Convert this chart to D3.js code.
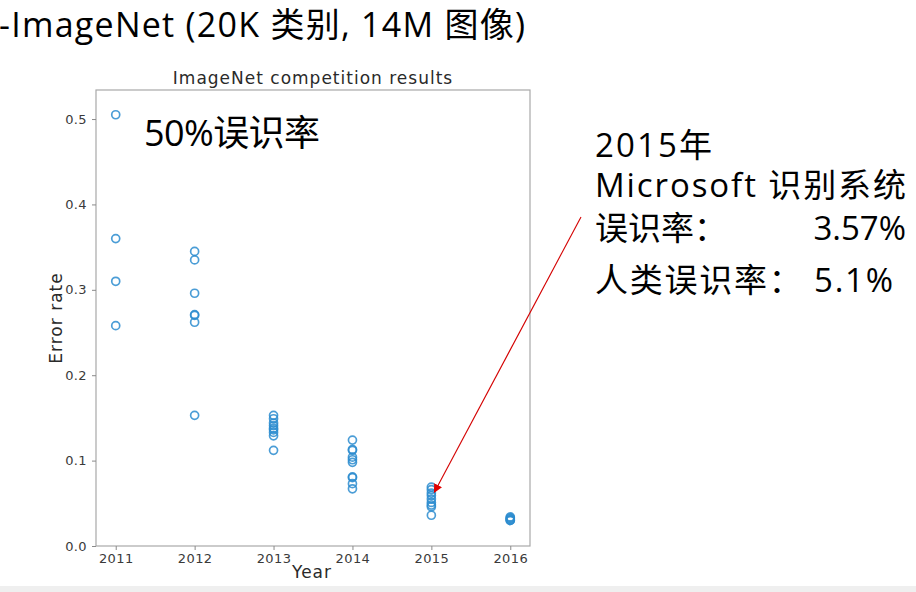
<!DOCTYPE html>
<html><head><meta charset="utf-8">
<script src="https://cdn.jsdelivr.net/npm/d3@7"></script>
<style>
html,body{margin:0;padding:0;background:#fff;}
svg{display:block;}
</style></head>
<body>
<script>
// ---- data ----
const years = [2011, 2012, 2013, 2014, 2015, 2016];
const err2011 = [0.505, 0.360, 0.310, 0.258];
const err2012 = [0.345, 0.335, 0.296, 0.271, 0.270, 0.262, 0.153];
const err2013 = [0.153, 0.149, 0.144, 0.141, 0.138, 0.136, 0.133, 0.129, 0.112];
const err2014 = [0.124, 0.113, 0.112, 0.104, 0.101, 0.098, 0.081, 0.080, 0.073, 0.067];
const err2015 = [0.069, 0.066, 0.062, 0.059, 0.055, 0.051, 0.048, 0.046, 0.036];
const err2016 = [0.034, 0.033, 0.032, 0.031, 0.030, 0.030];
const yTicks = [0.0, 0.1, 0.2, 0.3, 0.4, 0.5];
const xTicks = years;
const chartTitle = "ImageNet competition results";
const xLabel = "Year";
const yLabel = "Error rate";
const slideTitle = "-ImageNet (20K 类别, 14M 图像)";
const noteLeft = "50%误识率";
const noteRight = ["2015年", "Microsoft 识别系统"];
const msLabel = "误识率：";
const msValue = "3.57%";
const humanLine = "人类误识率： 5.1%";
const arrowTarget = {year: 2015, err: 0.063};

const series = [err2011, err2012, err2013, err2014, err2015, err2016];
const points = [];
series.forEach((arr, i) => arr.forEach(v => points.push({year: years[i], err: v})));

const W = 916, H = 592;
const svg = d3.select("body").append("svg").attr("width", W).attr("height", H);

// bottom gray strip
svg.append("rect").attr("x", 0).attr("y", 586).attr("width", W).attr("height", H - 586).attr("fill", "#efefef");

const plot = {left: 96, right: 530, top: 90, bottom: 546};
const x = d3.scaleLinear().domain([2010.75, 2016.25]).range([plot.left, plot.right]);
const y = d3.scaleLinear().domain([0, 0.534]).range([plot.bottom, plot.top]);

const mplFont = "'DejaVu Sans', sans-serif";
const slideFont = "'Open Sans', 'Noto Sans CJK SC', sans-serif";

// frame
svg.append("rect").attr("x", plot.left).attr("y", plot.top)
  .attr("width", plot.right - plot.left).attr("height", plot.bottom - plot.top)
  .attr("fill", "none").attr("stroke", "#a8a8a8").attr("stroke-width", 1.2);

// axes
const yAxis = d3.axisLeft(y).tickValues(yTicks).tickFormat(d3.format(".1f")).tickSize(4).tickPadding(5);
const xAxis = d3.axisBottom(x).tickValues(xTicks).tickFormat(d3.format("d")).tickSize(4).tickPadding(4);
const gy = svg.append("g").attr("transform", `translate(${plot.left},0)`).call(yAxis);
const gx = svg.append("g").attr("transform", `translate(0,${plot.bottom})`).call(xAxis);
[gx, gy].forEach(g => {
  g.select(".domain").remove();
  g.selectAll(".tick line").attr("stroke", "#8a8a8a").attr("stroke-width", 1);
  g.selectAll(".tick text").attr("fill", "#3a3a3a").style("font-family", mplFont).style("font-size", "13px")
    .style("letter-spacing", "0.4px");
});

// labels
const labStyle = sel => sel.style("font-family", mplFont).style("font-size", "17px")
  .style("letter-spacing", "1px").attr("fill", "#2a2a2a");
svg.append("text").attr("x", (plot.left + plot.right) / 2).attr("y", 84)
  .attr("text-anchor", "middle").call(labStyle).text(chartTitle);
svg.append("text").attr("x", (plot.left + plot.right) / 2 - 1).attr("y", 578)
  .attr("text-anchor", "middle").call(labStyle).text(xLabel);
svg.append("text").attr("transform", `translate(62,${(plot.top + plot.bottom) / 2}) rotate(-90)`)
  .attr("text-anchor", "middle").call(labStyle).text(yLabel);

// points
svg.append("g").selectAll("circle").data(points).join("circle")
  .attr("cx", d => x(d.year)).attr("cy", d => y(d.err)).attr("r", 4)
  .attr("fill", "none").attr("stroke", "#2b8ccf").attr("stroke-width", 1.7).attr("stroke-opacity", 0.85);

// slide title
svg.append("text").attr("x", -1).attr("y", 37).style("font-family", slideFont).style("font-size", "34px")
  .attr("textLength", 526).attr("lengthAdjust", "spacing")
  .attr("fill", "#000").text(slideTitle);

// 50% note
svg.append("text").attr("x", 144).attr("y", 146).style("font-family", slideFont).style("font-size", "36px")
  .attr("textLength", 176).attr("lengthAdjust", "spacing")
  .attr("fill", "#000").text(noteLeft);

// right notes
const rx = 595;
const rs = sel => sel.style("font-family", slideFont).style("font-size", "33px").attr("fill", "#000");
svg.append("text").attr("x", rx).attr("y", 157).call(rs)
  .attr("textLength", 117).attr("lengthAdjust", "spacing").text(noteRight[0]);
svg.append("text").attr("x", rx).attr("y", 197).call(rs)
  .attr("textLength", 311).attr("lengthAdjust", "spacing").text(noteRight[1]);
svg.append("text").attr("x", rx).attr("y", 240).call(rs).text(msLabel);
svg.append("text").attr("x", 906).attr("y", 240).attr("text-anchor", "end").call(rs).text(msValue);
svg.append("text").attr("x", rx).attr("y", 292).call(rs)
  .attr("textLength", 298).attr("lengthAdjust", "spacing").text(humanLine);

// arrow
const defs = svg.append("defs");
defs.append("marker").attr("id", "ah").attr("viewBox", "0 0 10 10").attr("refX", 9).attr("refY", 5)
  .attr("markerWidth", 8).attr("markerHeight", 8).attr("orient", "auto")
  .append("path").attr("d", "M0,0 L10,5 L0,10 z").attr("fill", "#e00000");
const ax0 = 581, ay0 = 217;
svg.append("line").attr("x1", ax0).attr("y1", ay0)
  .attr("x2", x(arrowTarget.year) + 3).attr("y2", y(arrowTarget.err))
  .attr("stroke", "#d40000").attr("stroke-width", 1.1).attr("marker-end", "url(#ah)");
</script>
</body></html>
